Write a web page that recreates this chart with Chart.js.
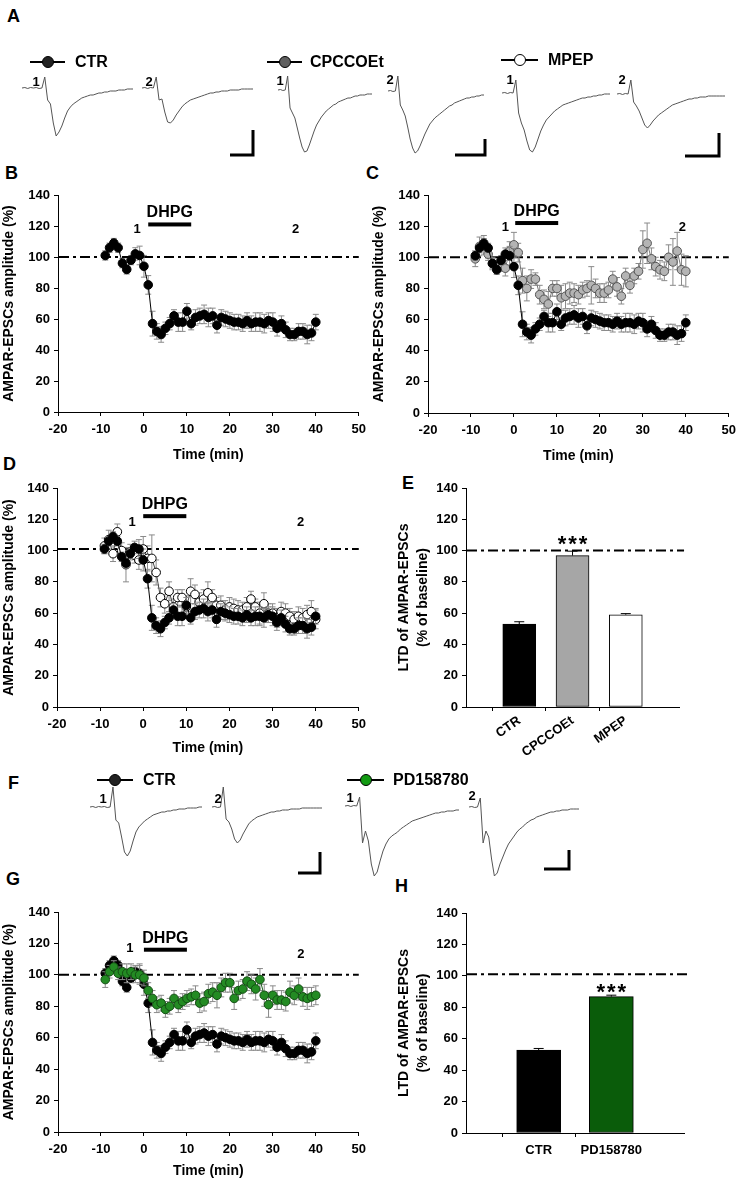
<!DOCTYPE html>
<html>
<head>
<meta charset="utf-8">
<script src="https://cdn.jsdelivr.net/npm/chart.js@4.4.1/dist/chart.umd.min.js"></script>
<style>
body { margin: 0; background: #fff; }
#fig { position: relative; width: 743px; height: 1182px; overflow: hidden; background: #fff;
       font-family: 'Liberation Sans', Arial, sans-serif; color: #000; }
#fig canvas { position: absolute; }
.lab { position: absolute; font-weight: bold; font-size: 18px; line-height: 18px; }
.num { position: absolute; font-weight: bold; font-size: 13px; line-height: 13px; transform: translate(-50%, -50%); }
.leg { position: absolute; font-weight: bold; font-size: 16px; line-height: 16px; transform: translateY(-50%); }
.lline { position: absolute; height: 1.5px; background: #000; }
.ldot { position: absolute; width: 10px; height: 10px; border: 1.5px solid #000; border-radius: 50%; transform: translate(-50%, -50%); }
</style>
</head>
<body>
<div id="fig">
  <div class="lab" style="left:7px;top:7px">A</div>
  <div class="lab" style="left:5px;top:164px">B</div>
  <div class="lab" style="left:366px;top:164px">C</div>
  <div class="lab" style="left:3px;top:455px">D</div>
  <div class="lab" style="left:402px;top:474px">E</div>
  <div class="lab" style="left:8px;top:774px">F</div>
  <div class="lab" style="left:6px;top:870px">G</div>
  <div class="lab" style="left:395px;top:877px">H</div>

  <canvas id="trA" width="743" height="110" style="left:0;top:60px"></canvas>
  <canvas id="trF" width="743" height="115" style="left:0;top:770px"></canvas>
  <canvas id="chB" width="372" height="287" style="left:0;top:180px"></canvas>
  <canvas id="chC" width="376" height="288" style="left:366px;top:180px"></canvas>
  <canvas id="chD" width="372" height="289" style="left:0;top:473px"></canvas>
  <canvas id="chE" width="300" height="289" style="left:390px;top:473px"></canvas>
  <canvas id="chG" width="372" height="283" style="left:0;top:897px"></canvas>
  <canvas id="chH" width="300" height="280" style="left:390px;top:898px"></canvas>
</div>

<script>
// time axis of the plots (min)
var timeMin = [-9, -8, -7, -6, -5, -4, -3, -2, -1, 0,
    1, 2, 3, 4, 5, 6, 7, 8, 9, 10, 11, 12, 13, 14, 15, 16, 17, 18, 19, 20,
    21, 22, 23, 24, 25, 26, 27, 28, 29, 30, 31, 32, 33, 34, 35, 36, 37, 38, 39, 40];

// CTR
var ctrAmp = [101, 106, 109, 106, 96, 92, 98, 102, 101, 94,
    82, 57, 52, 50, 54, 57, 62, 58, 58, 65,
    57, 61, 62, 63, 61, 62, 56, 61, 60, 59,
    58, 58, 57, 59, 57, 58, 58, 57, 59, 58,
    54, 57, 53, 50, 50, 52, 52, 50, 51, 58];
var ctrSem = [3, 3, 3, 3, 3, 3, 3, 4, 6, 7,
    6, 8, 5, 5, 4, 4, 4, 6, 6, 5,
    4, 5, 5, 6, 6, 5, 5, 5, 5, 5,
    5, 5, 5, 5, 5, 6, 6, 6, 5, 6,
    5, 5, 5, 4, 4, 5, 5, 6, 5, 5];

// CPCCOEt
var cpcAmp = [99, 107, 108, 102, 96, 94, 95, 93, 104, 108,
    103, 85, 80, 86, 86, 76, 73, 70, 80, 80,
    74, 75, 77, 77, 76, 79, 80, 82, 80, 77,
    77, 79, 86, 81, 75, 88, 82, 88, 91, 105,
    109, 99, 94, 92, 91, 100, 97, 104, 92, 91];
var cpcSem = [5, 6, 6, 4, 4, 4, 4, 5, 6, 8,
    6, 8, 8, 6, 4, 6, 6, 8, 5, 5,
    8, 8, 7, 6, 6, 5, 5, 12, 6, 6,
    6, 5, 5, 6, 5, 5, 5, 5, 5, 12,
    13, 7, 6, 6, 6, 8, 15, 12, 10, 10];

// MPEP
var mpepAmp = [103, 107, 98, 112, 100, 91, 99, 97, 94, 101,
    95, 95, 86, 70, 66, 74, 64, 70, 70, 64,
    74, 72, 67, 69, 73, 70, 65, 65, 62, 64,
    63, 62, 62, 64, 69, 64, 60, 66, 60, 60,
    57, 61, 60, 58, 56, 58, 57, 59, 61, 56];
var mpepSem = [5, 6, 5, 5, 5, 11, 5, 5, 6, 8,
    8, 15, 8, 6, 6, 6, 5, 5, 5, 7,
    8, 6, 6, 6, 7, 5, 5, 6, 6, 6,
    6, 6, 5, 6, 5, 5, 7, 7, 6, 6,
    6, 6, 6, 5, 5, 6, 6, 6, 7, 6];

// PD158780
var pdAmp = [97, 102, 105, 101, 102, 101, 102, 100, 100, 98,
    90, 85, 81, 82, 78, 80, 85, 81, 83, 85,
    86, 87, 82, 83, 88, 89, 87, 92, 95, 95,
    85, 90, 91, 96, 94, 91, 97, 87, 81, 87,
    84, 84, 83, 89, 87, 91, 86, 85, 86, 87];
var pdSem = [5, 4, 4, 4, 5, 6, 5, 5, 6, 5,
    5, 5, 5, 5, 5, 5, 5, 5, 5, 5,
    5, 6, 6, 6, 6, 6, 8, 6, 6, 6,
    7, 6, 6, 6, 6, 7, 7, 7, 8, 6,
    6, 6, 6, 7, 6, 7, 6, 7, 6, 6];

// LTD bars
var eLabels = ['CTR', 'CPCCOEt', 'MPEP'];
var eMeans = [53, 96.8, 59];
var eSem = [1.5, 2.8, 0.7];
var hLabels = ['CTR', 'PD158780'];
var hMeans = [52.8, 86.8];
var hSem = [1, 0.9];
var baseline = 100;

// example EPSC traces (amplitude, 40 samples each)
var trCtr1 = [0, 0.5, -0.5, 0.5, 0, 0.5, -0.5, 0, 11, -12, -16, -35, -48, -44, -38, -30, -23, -19, -16, -14,
    -12, -10, -9, -8, -7, -7, -6, -5, -5, -4, -4, -3, -3, -3, -2, -2, -2, -1, -1, -1];
var trCtr2 = [0, 0.5, -0.5, 0.5, 0, 11, -12, -11, -24, -34, -35, -32, -27, -23, -19, -16, -14, -12, -11, -10,
    -9, -8, -7, -6, -5, -5, -4, -4, -3, -3, -3, -2, -2, -2, -2, -1, -1, -1, -1, -1];
var trCpc1 = [0, 0.5, -0.5, 0, 14, -18, -23, -28, -38, -48, -57, -62, -61, -55, -48, -41, -35, -31, -27, -24,
    -21, -19, -17, -15, -14, -12, -11, -10, -9, -8, -8, -7, -6, -6, -5, -5, -5, -4, -4, -4];
var trCpc2 = [0, 0.5, -0.5, 0, 15, -14, -19, -25, -36, -48, -57, -62, -60, -55, -49, -43, -38, -33, -30, -27,
    -25, -23, -21, -19, -17, -15, -14, -12, -11, -10, -9, -8, -7, -7, -6, -6, -5, -5, -4, -4];
var trMpep1 = [0, 0.5, -0.5, 0.5, 0, 13, -20, -30, -37, -48, -57, -59, -54, -46, -38, -32, -27, -24, -21, -18,
    -16, -14, -12, -11, -10, -9, -8, -7, -6, -5, -5, -4, -4, -3, -3, -2, -2, -1, -1, -1];
var trMpep2 = [0, 0.5, -0.5, 0.5, 0, 14, -8, -12, -17, -24, -31, -34, -31, -27, -24, -21, -19, -17, -15, -13,
    -11, -10, -9, -8, -7, -6, -5, -5, -4, -4, -3, -3, -3, -2, -2, -2, -2, -2, -2, -2];
var trFCtr1 = [0, 0.5, -0.5, 0.5, 0, 0.5, -0.5, 0, 20, -13, -16, -30, -45, -49, -44, -34, -25, -20, -17, -14,
    -12, -10, -8, -7, -6, -5, -5, -4, -4, -3, -3, -2, -2, -2, -1, -1, -1, -1, 0, 0];
var trFCtr2 = [0, 0.5, -0.5, 0, 20, -12, -15, -22, -32, -36, -33, -27, -22, -17, -14, -12, -10, -9, -8, -7,
    -6, -5, -5, -4, -4, -3, -3, -3, -2, -2, -2, -2, -1, -1, -1, -1, -1, -1, -1, -1];
var trPd1 = [0, 0.5, -0.5, 0.5, 0, 9, -37, -25, -35, -58, -70, -66, -55, -45, -38, -33, -30, -28, -26, -23,
    -21, -19, -17, -15, -14, -13, -12, -11, -10, -9, -8, -7, -7, -6, -6, -5, -5, -5, -4, -4];
var trPd2 = [0, 0.5, -0.5, 0, 9, -36, -24, -30, -52, -69, -66, -57, -50, -43, -37, -33, -29, -25, -22, -20,
    -17, -15, -13, -12, -10, -9, -8, -7, -6, -5, -5, -4, -4, -3, -3, -3, -2, -2, -2, -2];

Chart.defaults.font.family = "'Liberation Sans', Arial, sans-serif";
Chart.defaults.font.weight = 'bold';
Chart.defaults.font.size = 13;
Chart.defaults.color = '#000';
Chart.defaults.animation = false;

var FONT = "'Liberation Sans', Arial, sans-serif";
var fig = document.getElementById('fig');

// legend items and trace numbers (html)
function legendItem(x1, x2, cy, fill, text, tx) {
    var l = document.createElement('div');
    l.className = 'lline';
    l.style.cssText = 'left:' + x1 + 'px;width:' + (x2 - x1) + 'px;top:' + (cy - 0.75) + 'px';
    fig.appendChild(l);
    var d = document.createElement('div');
    d.className = 'ldot';
    d.style.left = ((x1 + x2) / 2) + 'px';
    d.style.top = cy + 'px';
    d.style.background = fill;
    fig.appendChild(d);
    var t = document.createElement('div');
    t.className = 'leg';
    t.style.left = tx + 'px';
    t.style.top = cy + 'px';
    t.textContent = text;
    fig.appendChild(t);
}
function traceNum(text, x, y) {
    var n = document.createElement('div');
    n.className = 'num';
    n.style.left = x + 'px';
    n.style.top = y + 'px';
    n.textContent = text;
    fig.appendChild(n);
}
legendItem(30, 65, 62, '#222', 'CTR', 75);
legendItem(267, 302, 62, '#606060', 'CPCCOEt', 310);
legendItem(501, 538, 60, '#fff', 'MPEP', 548);
legendItem(97, 133, 780, '#222', 'CTR', 143);
legendItem(347, 384, 780, '#129a12', 'PD158780', 393);
traceNum('1', 36, 81); traceNum('2', 149, 81);
traceNum('1', 280, 80); traceNum('2', 390, 79);
traceNum('1', 510, 79); traceNum('2', 622, 79);
traceNum('1', 103, 798); traceNum('2', 218, 798);
traceNum('1', 350, 797); traceNum('2', 472, 795);

// error bars for points and bars
var errorBars = {
    id: 'errorBars',
    beforeDatasetDraw: function (chart, args) {
        var ds = chart.data.datasets[args.index];
        if (!ds.sem) return;
        var y = chart.scales.y, ctx = chart.ctx;
        ctx.save();
        ctx.strokeStyle = ds.semColor || '#888';
        ctx.lineWidth = 1;
        args.meta.data.forEach(function (pt, i) {
            var v = ds.data[i];
            var val = (v !== null && typeof v === 'object') ? v.y : v;
            if (val === null || val === undefined || !ds.sem[i]) return;
            var top = y.getPixelForValue(val + ds.sem[i]);
            var bot = ds.semUp ? pt.y : y.getPixelForValue(val - ds.sem[i]);
            var w = ds.capW || 3;
            ctx.beginPath();
            ctx.moveTo(pt.x, top); ctx.lineTo(pt.x, bot);
            ctx.moveTo(pt.x - w, top); ctx.lineTo(pt.x + w, top);
            if (!ds.semUp) { ctx.moveTo(pt.x - w, bot); ctx.lineTo(pt.x + w, bot); }
            ctx.stroke();
        });
        ctx.restore();
    }
};

// dash-dot baseline, DHPG bar, numbers, stars
var marksCfg = {};
var marks = {
    id: 'marks',
    beforeDatasetsDraw: function (chart) {
        var o = marksCfg[chart.canvas.id];
        if (!o) return;
        var ctx = chart.ctx, a = chart.chartArea;
        var py = chart.scales.y.getPixelForValue(o.base);
        ctx.save();
        ctx.setLineDash([10, 4, 3, 4]);
        ctx.lineWidth = 2;
        ctx.strokeStyle = '#000';
        ctx.beginPath();
        ctx.moveTo(a.left + 1, py);
        ctx.lineTo(a.right + (o.extra || 0), py);
        ctx.stroke();
        ctx.restore();
    },
    afterDatasetsDraw: function (chart) {
        var o = marksCfg[chart.canvas.id];
        if (!o) return;
        var ctx = chart.ctx, x = chart.scales.x, y = chart.scales.y;
        ctx.save();
        ctx.fillStyle = '#000';
        ctx.textAlign = 'center';
        if (o.drug) {
            var x1 = x.getPixelForValue(o.drug.from), x2 = x.getPixelForValue(o.drug.to);
            var py = y.getPixelForValue(o.drug.y);
            ctx.fillRect(x1, py - 2, x2 - x1, 4);
            ctx.font = 'bold 16px ' + FONT;
            ctx.textBaseline = 'alphabetic';
            ctx.fillText('DHPG', (x1 + x2) / 2, py - 7);
        }
        (o.nums || []).forEach(function (n) {
            ctx.font = 'bold 13px ' + FONT;
            ctx.textBaseline = 'middle';
            ctx.fillText(n.t, x.getPixelForValue(n.x), y.getPixelForValue(n.y));
        });
        if (o.stars) {
            var sx = x.getPixelForValue(o.stars.at), sy = y.getPixelForValue(o.stars.y);
            ctx.font = 'bold 22px ' + FONT;
            ctx.textBaseline = 'alphabetic';
            [-10.5, 0, 10.5].forEach(function (dx) { ctx.fillText('*', sx + dx, sy + 12.5); });
        }
        ctx.restore();
    }
};

function traceChart(id, top, height, traces, bars) {
    var datasets = traces.map(function (t) {
        return {
            data: t.amp.map(function (a, i) { return { x: t.x0 + i * t.w / (t.amp.length - 1), y: t.base - a }; }),
            borderColor: '#555', borderWidth: 1, pointRadius: 0, tension: 0
        };
    });
    bars.forEach(function (b) {
        datasets.push({
            data: [{ x: b.x, y: b.y - b.h }, { x: b.x, y: b.y }, { x: b.x - b.w, y: b.y }],
            borderColor: '#000', borderWidth: 3, pointRadius: 0, borderJoinStyle: 'miter'
        });
    });
    new Chart(document.getElementById(id), {
        type: 'line',
        data: { datasets: datasets },
        options: {
            responsive: false,
            layout: { padding: 0 },
            plugins: { legend: { display: false }, tooltip: { enabled: false } },
            scales: {
                x: { type: 'linear', display: false, min: 0, max: 743 },
                y: { type: 'linear', display: false, reverse: true, min: top, max: top + height }
            }
        }
    });
}

function axisY(L, text) {
    return {
        min: 0, max: 140,
        ticks: { stepSize: 20, padding: 4, font: { size: 13, weight: 'bold' } },
        grid: { drawOnChartArea: false, drawTicks: true, tickLength: 4, color: '#000' },
        border: { color: '#000', width: 1 },
        title: { display: true, text: text, font: { size: 14, weight: 'bold', lineHeight: 1.35 }, padding: { top: L.yTitlePad, bottom: 0 } },
        afterFit: function (s) { s.width = L.yAxisW; }
    };
}

function timeChart(id, L, sets) {
    var datasets = sets.map(function (s) {
        return {
            data: timeMin.map(function (t, i) { return { x: t, y: s.amp[i] }; }),
            sem: s.sem, semColor: '#8a8a8a',
            borderColor: s.line, borderWidth: 1, tension: 0,
            pointRadius: 4.3, pointBackgroundColor: s.fill, pointBorderColor: s.edge, pointBorderWidth: 1
        };
    });
    new Chart(document.getElementById(id), {
        type: 'line',
        data: { datasets: datasets },
        options: {
            responsive: false,
            layout: { padding: { top: L.padTop, right: L.padRight, left: 0, bottom: 0 } },
            plugins: { legend: { display: false }, tooltip: { enabled: false } },
            scales: {
                x: {
                    type: 'linear', min: -20, max: 50,
                    ticks: { stepSize: 10, padding: 6, font: { size: 13, weight: 'bold' } },
                    grid: { drawOnChartArea: false, drawTicks: true, tickLength: 4, color: '#000' },
                    border: { color: '#000', width: 1 },
                    title: { display: true, text: 'Time (min)', font: { size: 14, weight: 'bold' }, padding: { top: 0, bottom: L.xTitlePad } },
                    afterFit: function (s) { s.height = L.xAxisH; }
                },
                y: axisY(L, 'AMPAR-EPSCs amplitude (%)')
            }
        },
        plugins: [errorBars, marks]
    });
}

function barChart(id, L, labels, means, sem, colors, thick, rot) {
    var lab = [''].concat(labels, ['']);
    var last = lab.length - 1;
    new Chart(document.getElementById(id), {
        type: 'bar',
        data: {
            labels: lab,
            datasets: [{
                data: [null].concat(means, [null]),
                sem: [0].concat(sem, [0]), semUp: true, semColor: '#000', capW: 5,
                backgroundColor: ['#fff'].concat(colors, ['#fff']),
                borderColor: '#000', borderWidth: 1, borderSkipped: false,
                barThickness: thick
            }]
        },
        options: {
            responsive: false,
            layout: { padding: { top: L.padTop, right: L.padRight, left: 0, bottom: 0 } },
            plugins: { legend: { display: false }, tooltip: { enabled: false } },
            scales: {
                x: {
                    offset: false,
                    ticks: { autoSkip: false, minRotation: rot, maxRotation: rot, padding: L.tickPad, font: { size: 13, weight: 'bold' } },
                    grid: {
                        drawOnChartArea: false, drawTicks: true, tickLength: 4,
                        tickColor: function (c) { return (c.index === 0 || c.index === last) ? 'rgba(0,0,0,0)' : '#000'; }
                    },
                    border: { color: '#000', width: 1 },
                    afterFit: function (s) { s.height = L.xAxisH; }
                },
                y: axisY(L, ['LTD of AMPAR-EPSCs', '(% of baseline)'])
            }
        },
        plugins: [errorBars, marks]
    });
}

// panel A / F traces
traceChart('trA', 60, 110, [
    { amp: trCtr1, x0: 22, w: 111, base: 88 },
    { amp: trCtr2, x0: 142, w: 111, base: 88 },
    { amp: trCpc1, x0: 278, w: 94, base: 90 },
    { amp: trCpc2, x0: 388, w: 96, base: 91 },
    { amp: trMpep1, x0: 502, w: 108, base: 93 },
    { amp: trMpep2, x0: 617, w: 108, base: 94 }
], [
    { x: 253, y: 155, w: 23, h: 25 },
    { x: 485, y: 155, w: 30, h: 16 },
    { x: 719, y: 156, w: 34, h: 23 }
]);
traceChart('trF', 770, 115, [
    { amp: trFCtr1, x0: 90, w: 112, base: 807 },
    { amp: trFCtr2, x0: 212, w: 110, base: 807 },
    { amp: trPd1, x0: 345, w: 114, base: 806 },
    { amp: trPd2, x0: 469, w: 110, base: 807 }
], [
    { x: 320, y: 873, w: 22, h: 21 },
    { x: 569, y: 869, w: 25, h: 19 }
]);

var CTR = { amp: ctrAmp, sem: ctrSem, line: '#000', fill: '#000', edge: '#000' };
var CPC = { amp: cpcAmp, sem: cpcSem, line: '#777', fill: '#b4b4b4', edge: '#555' };
var MPEP = { amp: mpepAmp, sem: mpepSem, line: '#444', fill: '#fff', edge: '#000' };
var PD = { amp: pdAmp, sem: pdSem, line: '#1b5e1b', fill: '#238b23', edge: '#134d13' };

marksCfg.chB = { base: baseline, drug: { from: 1, to: 11, y: 121 }, nums: [{ t: '1', x: -1.6, y: 118 }, { t: '2', x: 35.3, y: 118 }] };
marksCfg.chC = { base: baseline, drug: { from: 0.3, to: 10.3, y: 122 }, nums: [{ t: '1', x: -2, y: 119 }, { t: '2', x: 39.2, y: 119 }] };
marksCfg.chD = { base: baseline + 1, drug: { from: 0, to: 10, y: 122 }, nums: [{ t: '1', x: -2.6, y: 118 }, { t: '2', x: 36.5, y: 118 }] };
marksCfg.chG = { base: baseline, drug: { from: 0, to: 10, y: 116 }, nums: [{ t: '1', x: -3.3, y: 117 }, { t: '2', x: 36.5, y: 113 }] };
marksCfg.chE = { base: baseline, extra: 5, stars: { at: 2, y: 108 } };
marksCfg.chH = { base: baseline + 1, extra: 5, stars: { at: 2, y: 93.5 } };

timeChart('chB', { padTop: 15, padRight: 9, yAxisW: 58, xAxisH: 55, xTitlePad: 3.6, yTitlePad: 0 }, [CTR]);
timeChart('chC', { padTop: 15, padRight: 9, yAxisW: 62, xAxisH: 55, xTitlePad: 3.6, yTitlePad: 4 }, [CTR, CPC]);
timeChart('chD', { padTop: 15, padRight: 9, yAxisW: 57, xAxisH: 55, xTitlePad: 5.6, yTitlePad: 0 }, [CTR, MPEP]);
timeChart('chG', { padTop: 15, padRight: 9, yAxisW: 58, xAxisH: 48, xTitlePad: 0, yTitlePad: 0 }, [PD, CTR]);

barChart('chE', { padTop: 15, padRight: 5, yAxisW: 76, xAxisH: 55, yTitlePad: 4.5, tickPad: 2 },
    eLabels, eMeans, eSem, ['#000', '#a6a6a6', '#fff'], 33, 35);
barChart('chH', { padTop: 15, padRight: 5, yAxisW: 76, xAxisH: 45, yTitlePad: 4.5, tickPad: 6 },
    hLabels, hMeans, hSem, ['#000', '#0a5c0a'], 44, 0);
</script>
</body>
</html>
